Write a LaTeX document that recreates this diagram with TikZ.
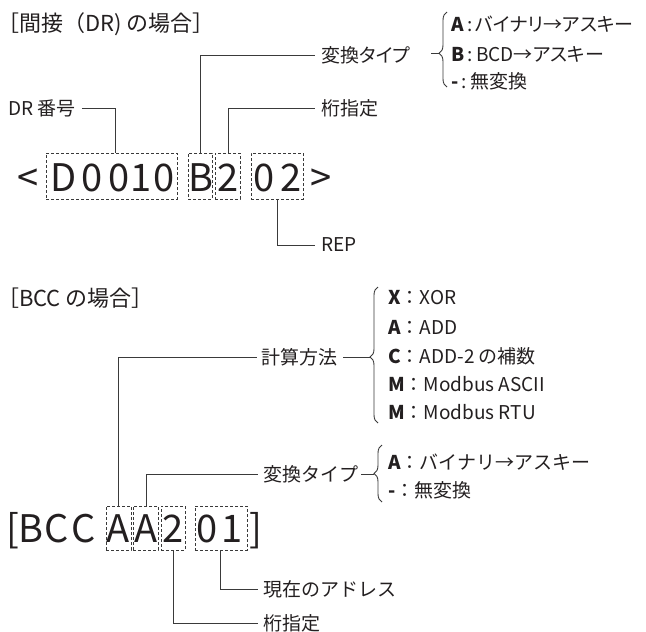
\documentclass[tikz,border=0pt]{standalone}
\usepackage{fontspec}
\setmainfont{Noto Sans CJK JP}
\newfontfamily\jpp{Noto Sans CJK JP}[RawFeature=+palt]
\usetikzlibrary{decorations.pathreplacing}
\definecolor{ink}{HTML}{231F20}
\definecolor{lc}{HTML}{3A3A3A}
\begin{document}
\begin{tikzpicture}[x=1pt,y=-1pt,
  lbl/.style={anchor=west,inner sep=0pt,text=ink,font=\fontsize{19}{19}\selectfont},
  lblp/.style={anchor=west,inner sep=0pt,text=ink,font=\jpp\fontsize{19}{19}\selectfont},
  ttl/.style={anchor=west,inner sep=0pt,text=ink,font=\fontsize{22}{22}\selectfont},
  big/.style={anchor=base,inner sep=0pt,text=ink,font=\fontsize{38}{38}\selectfont},
  dbox/.style={draw=lc,line width=0.9pt,dash pattern=on 3pt off 2pt,inner sep=0pt},
  ln/.style={draw=lc,line width=0.9pt},
  brc/.style={ln,decorate,decoration={brace,amplitude=8pt}}]
\useasboundingbox (0,0) rectangle (646,632);

% ===== top part =====
\node[ttl] (t1) at (8,24) {{\jpp ［}間接（DR) の場合{\jpp ］}};

% boxes
\node[dbox,minimum width=131pt,minimum height=46pt] (b1) at (111.5,176) {};
\node[dbox,minimum width=24pt,minimum height=46pt] (b2) at (200,176) {};
\node[dbox,minimum width=25pt,minimum height=46pt] (b3) at (227.5,176) {};
\node[dbox,minimum width=52pt,minimum height=46pt] (b4) at (277,176) {};

% characters
\node[big] (ca) at (28,191) {<};
\node[big] (c1) at (64,191) {D};
\node[big] (c2) at (92,191) {0};
\node[big] (c3) at (119,191) {0};
\node[big] (c4) at (141,191) {1};
\node[big] (c5) at (164,191) {0};
\node[big] (c6) at (201,191) {B};
\node[big] (c7) at (228,191) {2};
\node[big] (c8) at (264,191) {0};
\node[big] (c9) at (291,191) {2};
\node[big] (cb) at (321,191) {>};

% labels
\node[lbl] (lDR) at (8,108) {DR 番号};
\node[lblp] (lVT) at (321,55) {変換タイプ};
\node[lbl] (lKS) at (321,108) {桁指定};
\node[lbl] (lREP) at (321,245) {REP};

\coordinate (p1) at (115,153);
\coordinate (p2) at (200,153);
\coordinate (p3) at (228,153);
\coordinate (p4) at (277,199);
\draw[ln] ([xshift=6pt]lDR.east) -| (p1);
\draw[ln] (p2) |- ([xshift=-6pt]lVT.west);
\draw[ln] (p3) |- ([xshift=-6pt]lKS.west);
\draw[ln] (p4) |- ([xshift=-6pt]lREP.west);

% brace top
\draw[brc,decoration={aspect=0.45}] (447,87) -- (447,12);
\coordinate (bt1) at (439,53);
\coordinate (bs1) at (431,53);
\draw[ln] (bs1) -- (bt1);
\node[lblp] (i1) at (451,24) {\textbf{A}\,:\,バイナリ→アスキー};
\node[lblp] (i2) at (451,54) {\textbf{B}\,:\,BCD→アスキー};
\node[lblp] (i3) at (451,81) {\textbf{-}\,:\,無変換};

% ===== bottom part =====
\node[ttl] (t2) at (8,298) {{\jpp ［}BCC の場合{\jpp ］}};

\node[dbox,minimum width=25pt,minimum height=44pt] (d1) at (118.5,528) {};
\node[dbox,minimum width=25pt,minimum height=44pt] (d2) at (145.5,528) {};
\node[dbox,minimum width=24pt,minimum height=44pt] (d3) at (173,528) {};
\node[dbox,minimum width=52pt,minimum height=44pt] (d4) at (221,528) {};

\node[big] (e0) at (13,542) {[};
\node[big] (e1) at (31,542) {B};
\node[big] (e2) at (57,542) {C};
\node[big] (e3) at (84,542) {C};
\node[big] (e4) at (118,542) {A};
\node[big] (e5) at (146,542) {A};
\node[big] (e6) at (173,542) {2};
\node[big] (e7) at (207,542) {0};
\node[big] (e8) at (232,542) {1};
\node[big] (e9) at (256,542) {]};

\node[lbl] (mK) at (261,357) {計算方法};
\node[lbl] (mV) at (263,474) {変換タイプ};
\node[lbl] (mG) at (263,589) {現在のアドレス};
\node[lbl] (mS) at (263,623) {桁指定};

\coordinate (q1) at (118,506);
\coordinate (q2) at (146,506);
\coordinate (q3) at (220,550);
\coordinate (q4) at (173,550);
\draw[ln] (q1) |- ([xshift=-4pt]mK.west);
\draw[ln] (q2) |- ([xshift=-5pt]mV.west);
\draw[ln] (q3) |- ([xshift=-5pt]mG.west);
\draw[ln] (q4) |- ([xshift=-5pt]mS.west);

% brace calc
\draw[brc,decoration={aspect=0.485}] (378,423) -- (378,287);
\coordinate (bt2) at (370,357);
\draw[ln] ([xshift=6pt]mK.east |- bt2) -- (bt2);
\node[lbl] (k1) at (388,298) {\textbf{X}：XOR};
\node[lbl] (k2) at (388,327) {\textbf{A}：ADD};
\node[lbl] (k3) at (388,356) {\textbf{C}：ADD-2 の補数};
\node[lbl] (k4) at (388,384) {\textbf{M}：Modbus ASCII};
\node[lbl] (k5) at (388,412) {\textbf{M}：Modbus RTU};

% brace conv
\draw[brc,decoration={aspect=0.5}] (382,502) -- (382,445);
\coordinate (bt3) at (374,474);
\draw[ln] ([xshift=3pt]mV.east |- bt3) -- (bt3);
\node[lbl] (v1) at (388,462) {\textbf{A}：バイナリ→アスキー};
\node[lbl] (v2) at (388,490) {\textbf{-}：無変換};
\end{tikzpicture}
\end{document}
